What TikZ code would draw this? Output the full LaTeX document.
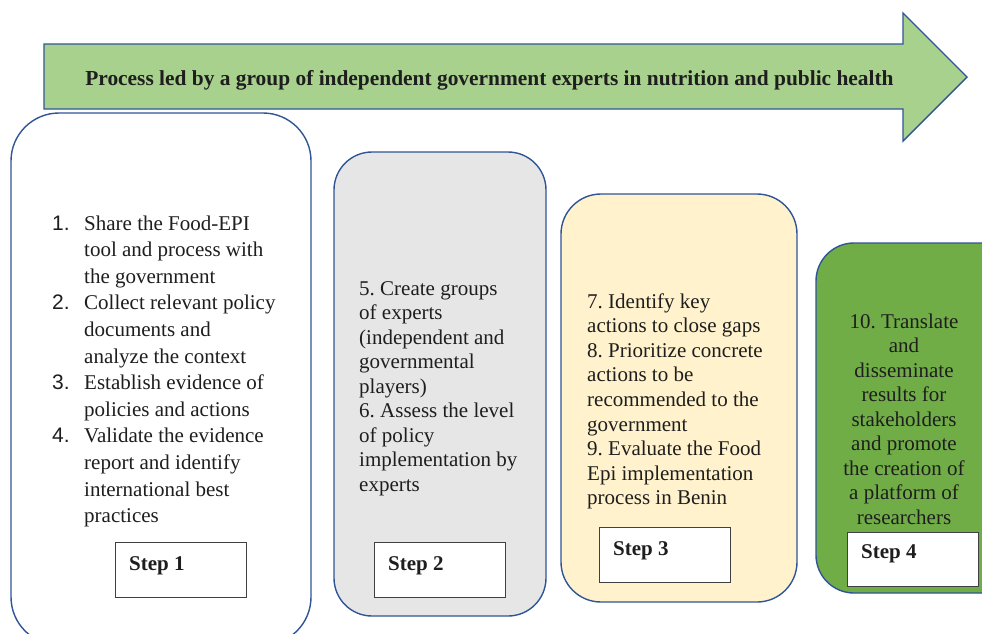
\documentclass[tikz,border=0pt]{standalone}
\usepackage{fontspec}
\setmainfont{Liberation Serif}
\newfontfamily\numfont{Liberation Sans}
\frenchspacing
\definecolor{edgeblue}{HTML}{2F5597}
\definecolor{arrowgreen}{HTML}{A9D18E}
\definecolor{panelgray}{HTML}{E7E6E6}
\definecolor{panelcream}{HTML}{FFF2CC}
\definecolor{panelgreen}{HTML}{70AD47}
\definecolor{inktext}{HTML}{1E1E1E}
\definecolor{tagedge}{HTML}{404040}
\newcommand{\num}[1]{\makebox[32pt][l]{\numfont #1}}
\begin{document}
\begin{tikzpicture}[x=1pt,y=-1pt,
  panel/.style={draw=edgeblue, line width=1.4pt},
  tagbox/.style={draw=tagedge, fill=white, line width=0.9pt},
  tagtext/.style={anchor=base west, inner sep=0pt, font=\fontsize{21}{25}\selectfont\bfseries, text=inktext},
  body/.style={inner sep=0pt, text=inktext, font=\rmfamily}]
\useasboundingbox (0,0) rectangle (982,633);

% banner arrow
\draw[panel, fill=arrowgreen, line join=miter]
  (44,44) -- (903,44) -- (903,13) -- (967,77) -- (903,141) -- (903,109) -- (44,109) -- cycle;
\node[inner sep=0pt, anchor=base, text=inktext, font=\fontsize{21.4}{25}\selectfont\bfseries] (title) at (489.5,85)
  {Process led by a group of independent government experts in nutrition and public health};

% step panels
\draw[panel, fill=white, rounded corners=48pt] (11,113) rectangle (311,645);
\draw[panel, fill=panelgray, rounded corners=38pt] (334,152) rectangle (546,616);
\draw[panel, fill=panelcream, rounded corners=40pt] (561,194) rectangle (797,602);
\draw[panel, fill=panelgreen, rounded corners=38pt] (816,243) rectangle (1040,593);

% step 1
\node[body, anchor=base west] (s1) at (52,230)
  {\fontsize{21}{26.6}\selectfont\begin{tabular}[t]{@{}l@{}}
  \num{1.}Share the Food-EPI\\
  \num{}tool and process with\\
  \num{}the government\\
  \num{2.}Collect relevant policy\\
  \num{}documents and\\
  \num{}analyze the context\\
  \num{3.}Establish evidence of\\
  \num{}policies and actions\\
  \num{4.}Validate the evidence\\
  \num{}report and identify\\
  \num{}international best\\
  \num{}practices
  \end{tabular}};

% step 2
\node[body, anchor=base west] (s2) at (359,295)
  {\fontsize{21}{24.5}\selectfont\begin{tabular}[t]{@{}l@{}}
  5. Create groups\\
  of experts\\
  (independent and\\
  governmental\\
  players)\\
  6. Assess the level\\
  of policy\\
  implementation by\\
  experts
  \end{tabular}};

% step 3
\node[body, anchor=base west] (s3) at (587,308)
  {\fontsize{21}{24.6}\selectfont\begin{tabular}[t]{@{}l@{}}
  7. Identify key\\
  actions to close gaps\\
  8. Prioritize concrete\\
  actions to be\\
  recommended to the\\
  government\\
  9. Evaluate the Food\\
  Epi implementation\\
  process in Benin
  \end{tabular}};

% step 4
\node[body, anchor=base] (s4) at (904,328)
  {\fontsize{21}{24.5}\selectfont\begin{tabular}[t]{@{}c@{}}
  10. Translate\\
  and\\
  disseminate\\
  results for\\
  stakeholders\\
  and promote\\
  the creation of\\
  a platform of\\
  researchers
  \end{tabular}};

% step labels
\draw[tagbox] (115,542) rectangle (246,597);
\node[tagtext] (t1) at (129,570) {Step 1};
\draw[tagbox] (374,542) rectangle (505,597);
\node[tagtext] (t2) at (388,570) {Step 2};
\draw[tagbox] (599,527) rectangle (730,582);
\node[tagtext] (t3) at (613,555) {Step 3};
\draw[tagbox] (847,532) rectangle (978,586);
\node[tagtext] (t4) at (861,558) {Step 4};
\end{tikzpicture}
\end{document}
